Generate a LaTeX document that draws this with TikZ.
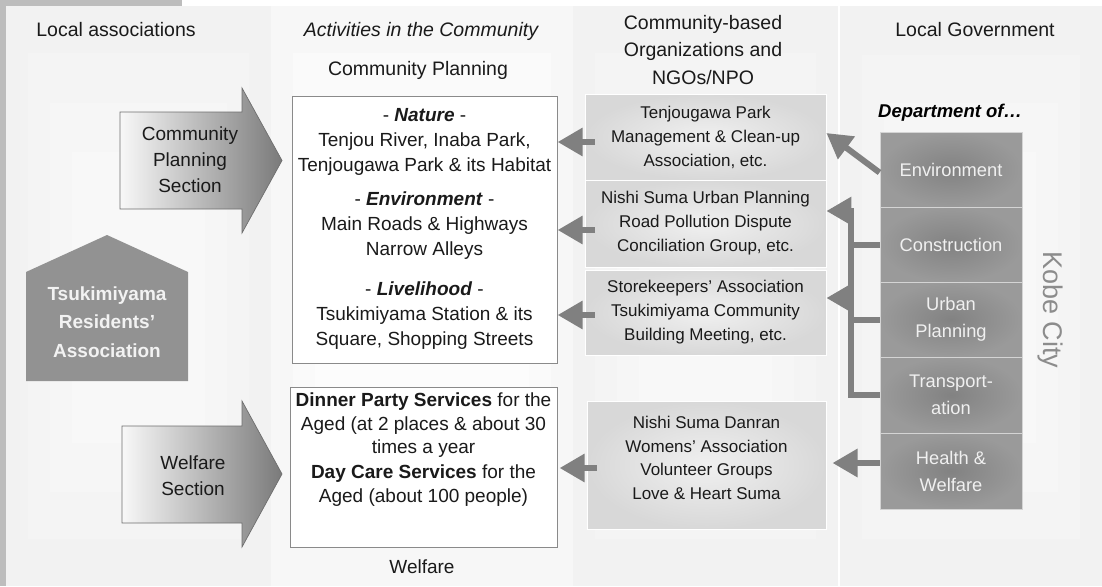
\documentclass[tikz,border=0pt]{standalone}
\usepackage{fontspec}
\setmainfont{Liberation Sans}
\usetikzlibrary{arrows.meta}
\definecolor{framegray}{HTML}{BDBDBD}
\definecolor{panelA}{HTML}{F2F2F2}
\definecolor{panelB}{HTML}{F4F4F4}
\definecolor{panelC}{HTML}{F6F6F6}
\definecolor{panelD}{HTML}{F8F8F8}
\definecolor{midA}{HTML}{F7F7F7}
\definecolor{midB}{HTML}{FAFAFA}
\definecolor{midC}{HTML}{FCFCFC}
\definecolor{arrowgray}{HTML}{808080}
\definecolor{housegray}{HTML}{929292}
\definecolor{deptin}{HTML}{828282}
\definecolor{deptout}{HTML}{9A9A9A}
\definecolor{deptline}{HTML}{D4D4D4}
\definecolor{orgin}{HTML}{F0F0F0}
\definecolor{orgout}{HTML}{D8D8D8}
\definecolor{bigL}{HTML}{F8F8F8}
\definecolor{bigR}{HTML}{7A7A7A}
\definecolor{bigline}{HTML}{6E6E6E}
\definecolor{boxline}{HTML}{8A8A8A}
\definecolor{kobe}{HTML}{8C8C8C}
\definecolor{txt}{HTML}{1A1A1A}
\begin{document}
\begin{tikzpicture}[x=1pt,y=-1pt,
 hdr/.style={font=\fontsize{19.5}{27.5}\selectfont, text=txt, inner sep=0pt, align=center},
 acttxt/.style={font=\fontsize{19}{25}\selectfont, text=txt, inner sep=0pt, align=center},
 orgbox/.style={draw=white, line width=0.8pt, inner color=orgin, outer color=orgout, font=\fontsize{17}{24}\selectfont, text=txt, align=center, inner sep=0pt, minimum width=241pt},
 dept/.style={draw=deptline, line width=1pt, inner color=deptin, outer color=deptout, font=\fontsize{18.3}{27}\selectfont, text=white!94!black, align=center, inner sep=0pt, minimum width=142pt, minimum height=75pt},
 actbox/.style={draw=boxline, line width=0.8pt, fill=white, inner sep=0pt},
 conn/.style={draw=arrowgray, line width=6pt, -{Triangle[length=25pt,width=27pt]}},
 busline/.style={draw=arrowgray, line width=6pt, line join=miter},
 bigarrow/.style={left color=bigL, right color=bigR, draw=bigline, line width=0.7pt},
 secttxt/.style={font=\fontsize{19}{26}\selectfont, text=txt, inner sep=0pt, align=center}
]
\useasboundingbox (0,0) rectangle (1102,586);
% backgrounds
\fill[white] (0,0) rectangle (1102,586);
\fill[framegray] (0,0) rectangle (182,6);
\fill[framegray] (0,0) rectangle (6,586);
% column 1
\fill[panelA] (6,6) rectangle (271,586);
\fill[panelB] (28,53) rectangle (249,539);
\fill[panelC] (50,103) rectangle (227,492);
\fill[panelD] (72,152) rectangle (205,443);
% column 2
\fill[midA] (271,6) rectangle (573,586);
\fill[midB] (293,53) rectangle (551,539);
\fill[midC] (315,103) rectangle (529,492);
% column 3
\fill[panelA] (573,6) rectangle (838,586);
\fill[panelB] (595,53) rectangle (816,539);
\fill[panelC] (617,103) rectangle (794,492);
\fill[panelD] (639,152) rectangle (772,443);
% column 4
\fill[panelA] (840,6) rectangle (1102,586);
\fill[panelB] (862,55) rectangle (1080,539);
\fill[panelC] (884,103) rectangle (1058,492);
\fill[panelD] (906,152) rectangle (1036,443);

% headers
\node[hdr] (h1) at (116,30) {Local associations};
\node[hdr, font=\fontsize{19.5}{27.5}\selectfont\itshape] (h2) at (421,31) {Activities in the Community};
\node[hdr] (h2b) at (418,70) {Community Planning};
\node[hdr] (h3) at (703,50) {Community-based\\Organizations and\\NGOs/NPO};
\node[hdr] (h4) at (975,30) {Local Government};

% big arrows (sections)
\shade[bigarrow] (120,112) -- (242,112) -- (242,88) -- (282,160.5) -- (242,233) -- (242,209) -- (120,209) -- cycle;
\node[secttxt] (cps) at (190,160) {Community\\Planning\\Section};
\shade[bigarrow] (122,426) -- (242,426) -- (242,401) -- (282,474) -- (242,547) -- (242,523) -- (122,523) -- cycle;
\node[secttxt] (ws) at (193,475.5) {Welfare\\Section};

% house
\fill[housegray] (26,272) -- (107,235) -- (188,272) -- (188,381) -- (26,381) -- cycle;
\node[font=\fontsize{19}{28.5}\selectfont\bfseries, text=white!95!black, align=center, inner sep=0pt] (tra) at (107,322) {Tsukimiyama\\Residents’\\Association};

% activity boxes
\node[actbox, minimum width=265pt, minimum height=267pt] (cp) at (424.5,229.5) {};
\node[acttxt] (nat) at (424.5,142) {- \textbf{\textit{Nature}} -\\Tenjou River, Inaba Park,\\Tenjougawa Park \& its Habitat};
\node[acttxt] (envt) at (424.5,226) {- \textbf{\textit{Environment}} -\\Main Roads \& Highways\\Narrow Alleys};
\node[acttxt] (liv) at (424.5,316) {- \textbf{\textit{Livelihood}} -\\Tsukimiyama Station \& its\\Square, Shopping Streets};
\node[actbox, minimum width=267pt, minimum height=160pt] (wf) at (423.5,467) {};
\node[acttxt, font=\fontsize{19}{23.5}\selectfont] (din) at (423.5,425.5) {\textbf{Dinner Party Services} for the\\Aged (at 2 places \& about 30\\times a year};
\node[acttxt, font=\fontsize{19}{24}\selectfont] (day) at (423.5,486) {\textbf{Day Care Services} for the\\Aged (about 100 people)};
\node[hdr, font=\fontsize{19}{24}\selectfont] (wlab) at (422,567) {Welfare};

% organization boxes
\node[orgbox, minimum height=86pt] (b1) at (705.5,137) {Tenjougawa Park\\Management \& Clean-up\\Association, etc.};
\node[orgbox, minimum height=87pt] (b2) at (705.5,223.5) {Nishi Suma Urban Planning\\Road Pollution Dispute\\Conciliation Group, etc.};
\node[orgbox, minimum height=85pt] (b3) at (705.5,312.5) {Storekeepers’ Association\\Tsukimiyama Community\\Building Meeting, etc.};
\node[orgbox, minimum width=239pt, minimum height=128pt] (b4) at (706.5,465) {};
\node[font=\fontsize{17}{23.7}\selectfont, text=txt, align=center, inner sep=0pt] (b4t) at (706.5,458) {Nishi Suma Danran\\Womens’ Association\\Volunteer Groups\\Love \& Heart Suma};

% departments
\node[font=\fontsize{18.5}{22}\selectfont\bfseries\itshape, anchor=west, inner sep=0pt, text=black] (dep) at (878,113) {Department of…};
\node[dept] (env) at (951,169.5) {Environment};
\node[dept] (con) at (951,244.5) {Construction};
\node[dept] (urb) at (951,319.5) {Urban\\Planning};
\node[dept, minimum height=76pt] (tr) at (951,395) {Transport-\\ation};
\node[dept, minimum height=76pt] (hw) at (951,471) {Health \&\\Welfare};
\node[font=\fontsize{27}{27}\selectfont, text=kobe, rotate=-90, inner sep=0pt] (kobe) at (1050,310) {Kobe City};

% connectors: organizations -> activities
\draw[conn] ([xshift=10pt,yshift=-5pt]b1.west) -- ++(-37,0);
\draw[conn] ([xshift=10pt,yshift=-6.5pt]b2.west) -- ++(-37,0);
\draw[conn] ([xshift=10pt,yshift=-2.5pt]b3.west) -- ++(-37,0);
\draw[conn] ([xshift=10pt,yshift=-3pt]b4.west) -- ++(-37,0);

% connectors: departments -> organizations
\coordinate (busT) at (851,211);
\coordinate (busB) at (851,395);
\coordinate (a3) at (851,298);
\draw[conn] ([yshift=-3pt]env.west) -- ([yshift=4pt]b1.east);
\draw[busline] (con.west) -- (con.west -| busT);
\draw[busline] (urb.west) -- (urb.west -| busT);
\draw[conn, line join=miter] (tr.west) -- (busB) -- (busT) -- (busT -| b2.east);
\draw[conn] (a3) -- (a3 -| b3.east);
\draw[conn] ([yshift=8pt]hw.west) -- ++(-47,0);
\end{tikzpicture}
\end{document}
